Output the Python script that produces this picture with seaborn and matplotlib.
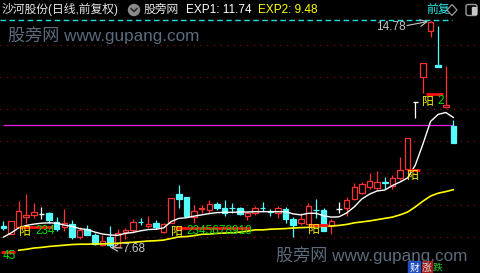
import numpy as np
import pandas as pd
import matplotlib
matplotlib.use("Agg")
import matplotlib.pyplot as plt
import seaborn as sns
from matplotlib.patches import Circle, Polygon, FancyBboxPatch, Rectangle

# ---------------- data ----------------
opens = [8.35, 8.08, 8.31, 8.62, 8.68, 8.71, 8.76, 8.48, 8.31, 8.40,
         8.01, 8.26, 8.06, 7.74, 8.01, 7.69, 8.15, 8.22, 8.48, 8.34,
         8.44, 8.16, 8.45, 9.34, 9.24, 8.61, 8.88, 8.84, 9.03, 8.90,
         8.92, 8.90, 8.66, 8.74, 8.91, 8.80, 8.76, 8.87, 8.55, 8.44,
         8.40, 8.85, 8.83, 8.34, 8.86, 8.90, 9.19, 9.38, 9.55, 9.52,
         9.72, 9.60, 9.84, 10.12, 12.22, 13.00, 14.46, 13.39, 12.06, 11.48]
highs = [8.51, 8.50, 9.12, 9.34, 9.05, 8.93, 8.78, 8.61, 8.87, 8.53,
         8.32, 8.36, 8.12, 8.06, 8.34, 8.24, 8.29, 8.55, 8.58, 8.66,
         8.53, 8.44, 9.21, 9.63, 9.24, 9.00, 9.00, 9.16, 9.10, 9.16,
         9.05, 8.93, 8.77, 8.97, 9.10, 8.86, 8.97, 8.93, 8.61, 8.76,
         9.05, 9.18, 8.92, 8.55, 9.10, 9.26, 9.69, 9.72, 10.01, 10.08,
         9.89, 9.94, 10.50, 11.10, 12.22, 13.44, 14.78, 14.61, 13.36, 11.66]
lows = [8.22, 8.08, 8.31, 8.44, 8.59, 8.55, 8.42, 8.19, 8.19, 7.94,
        7.92, 8.06, 7.75, 7.72, 7.68, 7.69, 7.93, 8.12, 8.37, 8.28,
        8.24, 8.11, 8.45, 8.90, 8.61, 8.42, 8.74, 8.76, 8.84, 8.66,
        8.76, 8.70, 8.53, 8.69, 8.82, 8.66, 8.58, 8.44, 8.01, 8.37,
        8.40, 8.58, 8.18, 8.09, 8.76, 8.66, 9.15, 9.35, 9.50, 9.48,
        9.50, 9.50, 9.78, 10.10, 11.74, 12.52, 14.28, 13.32, 12.03, 10.93]
closes = [8.27, 8.50, 8.81, 8.69, 8.78, 8.71, 8.52, 8.25, 8.43, 8.01,
          8.22, 8.06, 7.78, 7.87, 7.75, 8.11, 8.22, 8.47, 8.46, 8.40,
          8.30, 8.39, 9.21, 9.18, 8.66, 8.82, 8.92, 9.03, 8.91, 8.74,
          8.90, 8.72, 8.75, 8.90, 8.89, 8.78, 8.90, 8.57, 8.37, 8.56,
          8.98, 8.83, 8.19, 8.50, 8.86, 9.16, 9.56, 9.66, 9.75, 9.72,
          9.70, 9.84, 10.10, 11.09, 12.22, 13.44, 14.75, 13.32, 12.13, 10.93]
exp1 = [7.99, 8.12, 8.28, 8.36, 8.40, 8.43, 8.44, 8.43, 8.37, 8.33,
        8.26, 8.23, 8.15, 8.09, 8.06, 8.05, 8.11, 8.14, 8.19, 8.23,
        8.24, 8.28, 8.48, 8.58, 8.60, 8.65, 8.69, 8.73, 8.76, 8.77,
        8.77, 8.78, 8.78, 8.79, 8.79, 8.79, 8.79, 8.79, 8.72, 8.69,
        8.74, 8.74, 8.66, 8.62, 8.63, 8.75, 8.94, 9.19, 9.34, 9.44,
        9.47, 9.61, 9.72, 9.85, 10.25, 10.91, 11.62, 11.84, 11.90, 11.74]
exp2 = [np.nan, np.nan,
        7.58, 7.61, 7.65, 7.67, 7.70, 7.72, 7.74, 7.76, 7.77, 7.77,
        7.78, 7.78, 7.79, 7.80, 7.82, 7.83, 7.85, 7.87, 7.88, 7.90,
        7.95, 8.00, 8.01, 8.04, 8.08, 8.09, 8.11, 8.12, 8.13, 8.15,
        8.18, 8.22, 8.22, 8.24, 8.25, 8.26, 8.28, 8.29, 8.30, 8.32,
        8.33, 8.34, 8.36, 8.39, 8.44, 8.47, 8.50, 8.54, 8.58, 8.62,
        8.69, 8.78, 8.94, 9.12, 9.28, 9.37, 9.42, 9.48]
grid_levels = [8, 9, 10, 11, 12, 13, 14]
ref_price = 11.50
high_label = "14.78"
low_label = "7.68"
title_name = "沙河股份(日线,前复权)"
exp1_label = "EXP1: 11.74"
exp2_label = "EXP2: 9.48"

# ---------------- style ----------------
sns.set_theme(style="dark")
plt.rcParams['font.family'] = ['Liberation Sans', 'Noto Sans CJK SC', 'DejaVu Sans']
plt.rcParams['axes.facecolor'] = 'black'
plt.rcParams['figure.facecolor'] = 'black'

RED = '#ff3232'
CYAN = '#54fcfc'
WHITE = '#ffffff'
YELLOW = '#ffff00'
GREEN = '#00e000'

fig = plt.figure(figsize=(4.8, 2.73), dpi=100)
ax = fig.add_axes([0, 0, 1, 1])
ax.set_facecolor('black')

n = len(opens)
idx = np.arange(n)
df = pd.DataFrame({'idx': idx, 'open': opens, 'high': highs, 'low': lows,
                   'close': closes, 'exp1': exp1, 'exp2': exp2})

# grid
for g in grid_levels:
    ax.axhline(g, color='#9a1010', lw=0.8, ls=(0, (1, 5)), zorder=1)

# reference line
ax.hlines(ref_price, 0, n - 1, color='#e81ee8', lw=0.9, zorder=1.5)

W = 0.72
for i, r in df.iterrows():
    o, h, l, c = r['open'], r['high'], r['low'], r['close']
    if c > o:
        col = RED
    elif c < o:
        col = CYAN
    else:
        col = WHITE
    ax.vlines(i, l, h, color=col, lw=0.9, zorder=2)
    if c > o:
        ax.bar(i, c - o, bottom=o, width=W, facecolor='black', edgecolor=col,
               linewidth=0.9, zorder=3)
    elif c < o:
        ax.bar(i, o - c, bottom=c, width=W, facecolor=col, edgecolor=col,
               linewidth=0.9, zorder=3)
    else:
        ax.hlines(o, i - W / 2, i + W / 2, color=col, lw=1.0, zorder=3)

sns.lineplot(data=df, x='idx', y='exp1', ax=ax, color=WHITE, lw=1.0, zorder=4)
sns.lineplot(data=df, x='idx', y='exp2', ax=ax, color=YELLOW, lw=1.2, zorder=4)

ax.set_xlim(-0.433, 62.48)
ax.set_ylim(6.868, 15.426)
ax.set_xlabel('')
ax.set_ylabel('')
ax.set_xticks([])
ax.set_yticks([])
for s in ax.spines.values():
    s.set_visible(False)

# ---------------- overlay in pixel coordinates ----------------
ov = fig.add_axes([0, 0, 1, 1], facecolor='none')
ov.set_xlim(0, 480)
ov.set_ylim(273, 0)
ov.set_axis_off()

# top dashed cyan line
ov.plot([0, 452], [20, 20], color='#20e0e0', lw=1.0, ls=(0, (4, 2.5)))

# title bar
fs = 8.5
ov.text(2, 10, title_name, color='#e6e6e6', fontsize=fs, va='center', ha='left')
ov.add_patch(Circle((134, 10), 5.5, color='#8a8a8a'))
ov.plot([131, 134, 137], [8.5, 11.5, 8.5], color='#2a2a2a', lw=1.2)
ov.text(144, 10, "股旁网", color='#e6e6e6', fontsize=fs, va='center', ha='left')
ov.text(186, 10, exp1_label, color='#ffffff', fontsize=fs, va='center', ha='left')
ov.text(258, 10, exp2_label, color=YELLOW, fontsize=fs, va='center', ha='left')
ov.text(426, 10, "前复", color='#30e8e8', fontsize=fs, va='center', ha='left')
ov.add_patch(Polygon([[452, 4.5], [457, 10], [452, 15.5], [447, 10]], closed=True,
                     fill=False, edgecolor='#9a9a9a', lw=0.9))
ov.add_patch(FancyBboxPatch((466, 4.5), 11, 11, boxstyle="round,pad=0,rounding_size=2",
                            fill=False, edgecolor='#9a9a9a', lw=1.0))
ov.add_patch(Rectangle((472, 6.5), 3.5, 7, color='#c8c8c8'))

# watermarks
wm = '#5c6c7e'
ov.text(8, 35, "股旁网 www.gupang.com", color=wm, fontsize=12.3, va='center', ha='left')
ov.text(276, 255.5, "股旁网 www.gupang.com", color=wm, fontsize=12.3, va='center', ha='left')

# high / low labels
ov.text(406, 26.5, high_label, color='#c8c8c8', fontsize=fs, va='center', ha='right')
ov.annotate("", xy=(428, 21.5), xytext=(407, 25.5),
            arrowprops=dict(arrowstyle='->', color='#c8c8c8', lw=0.8,
                            shrinkA=0, shrinkB=0))
ov.text(122.5, 248.5, low_label, color='#c8c8c8', fontsize=fs, va='center', ha='left')
ov.annotate("", xy=(110, 247.5), xytext=(122, 248),
            arrowprops=dict(arrowstyle='->', color='#c8c8c8', lw=0.8,
                            shrinkA=0, shrinkB=0))

# signal labels
def bar(x0, x1, y):
    ov.plot([x0, x1], [y, y], color='#ff1010', lw=2.0, solid_capstyle='butt')

bar(1, 15, 251.5)
ov.text(3, 256, "45", color=GREEN, fontsize=fs, va='center', ha='left')

bar(19, 53, 226.5)
ov.text(18.5, 232, "阳", color=YELLOW, fontsize=fs, va='center', ha='left')
ov.text(35, 231.5, "234", color=GREEN, fontsize=fs, va='center', ha='left')

bar(175, 250, 227.5)
ov.text(170.5, 232, "阳", color=YELLOW, fontsize=fs, va='center', ha='left')
ov.text(186, 231.5, "2345678910", color=GREEN, fontsize=fs, va='center', ha='left')

bar(308, 328, 224.5)
ov.text(307.5, 230, "阳", color=YELLOW, fontsize=fs, va='center', ha='left')

bar(407, 420, 169.5)
ov.text(406.5, 175.5, "阳", color=YELLOW, fontsize=fs, va='center', ha='left')

bar(426, 443, 93.5)
ov.text(421.5, 101.5, "阳", color=YELLOW, fontsize=fs, va='center', ha='left')
ov.text(437, 101, "2", color=GREEN, fontsize=fs, va='center', ha='left')

# bottom-right badges
ov.add_patch(Rectangle((408, 261), 12, 12, color='#1f4fc0'))
ov.text(414, 267.5, "财", color='white', fontsize=7, va='center', ha='center')
ov.add_patch(Rectangle((421.5, 261), 10.5, 12, color='#a01818'))
ov.text(426.8, 267.5, "涨", color='#e0e0e0', fontsize=7, va='center', ha='center')
ov.text(438, 267.5, "跌", color='#20d020', fontsize=7, va='center', ha='center')

fig.savefig('out.png', dpi=100, facecolor='black')
